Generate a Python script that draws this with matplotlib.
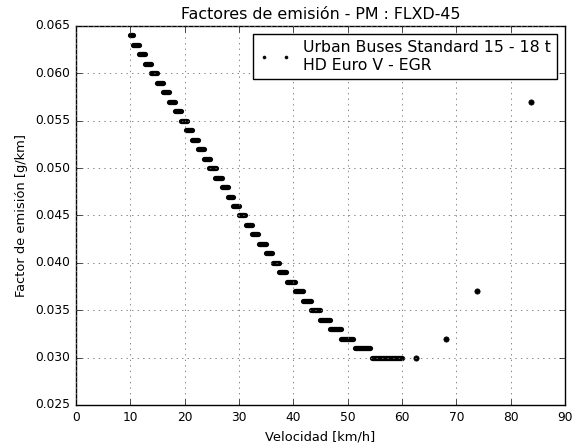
import matplotlib
matplotlib.use("Agg")
import matplotlib.pyplot as plt

# PM emission factor (g/km) vs. speed, urban bus 15-18 t, Euro V EGR.
# The curve is reported rounded to 0.001 g/km, so each factor holds over a
# speed run [speed_from, speed_to].
band_factor = [0.064, 0.063, 0.062, 0.061, 0.060, 0.059, 0.058, 0.057, 0.056,
               0.055, 0.054, 0.053, 0.052, 0.051, 0.050, 0.049, 0.048, 0.047,
               0.046, 0.045, 0.044, 0.043, 0.042, 0.041, 0.040, 0.039, 0.038,
               0.037, 0.036, 0.035, 0.034, 0.033, 0.032, 0.031, 0.030]
speed_from = [10.0, 10.5, 11.7, 12.8, 13.9, 14.95, 16.1, 17.15, 18.25,
              19.3, 20.35, 21.3, 22.4, 23.5, 24.55, 25.65, 26.8, 27.9,
              29.0, 30.1, 31.25, 32.4, 33.65, 34.9, 36.2, 37.45, 38.8,
              40.3, 41.75, 43.2, 44.9, 46.7, 48.7, 51.3, 54.4]
speed_to = [10.45, 11.7, 12.75, 13.9, 14.95, 16.1, 17.15, 18.25, 19.35,
            20.4, 21.35, 22.4, 23.5, 24.6, 25.7, 26.8, 27.9, 29.0,
            30.1, 31.2, 32.4, 33.6, 34.9, 36.1, 37.4, 38.7, 40.25,
            41.7, 43.2, 44.85, 46.7, 48.7, 51.0, 54.05, 60.0]

# isolated readings at higher speeds
extra_speed = [62.5, 68.1, 73.9, 83.8]
extra_factor = [0.030, 0.032, 0.037, 0.057]

plt.style.use("classic")

fig = plt.figure(figsize=(5.87, 4.45), dpi=100, facecolor="white")
ax = fig.add_axes([0.1293, 0.0899, 0.9625 - 0.1293, 0.9416 - 0.0899])

dot = 3.8  # point diameter in pt
for v0, v1, f in zip(speed_from, speed_to, band_factor):
    ax.plot([v0, v1], [f, f], color="k", lw=dot, solid_capstyle="round")
ax.plot(extra_speed, extra_factor, "o", color="k", mec="k", ms=dot,
        label="Urban Buses Standard 15 - 18 t\nHD Euro V - EGR")

ax.set_xlim(0, 90)
ax.set_ylim(0.025, 0.065)
ax.set_xticks(range(0, 91, 10))
ax.set_yticks([0.025, 0.030, 0.035, 0.040, 0.045, 0.050, 0.055, 0.060, 0.065])
ax.set_yticklabels(["%.3f" % t for t in ax.get_yticks()])
ax.tick_params(labelsize=8.8)
ax.grid(True, color="0.45", linestyle=":", linewidth=0.6)

ax.set_title("Factores de emisión - PM : FLXD-45", fontsize=11.4)
ax.set_xlabel("Velocidad [km/h]", fontsize=9.4)
ax.set_ylabel("Factor de emisión [g/km]", fontsize=9.4)

ax.legend(loc="upper right", numpoints=2, fontsize=11.3, markerscale=0.55)

fig.savefig("out.png", dpi=100, facecolor="white")
